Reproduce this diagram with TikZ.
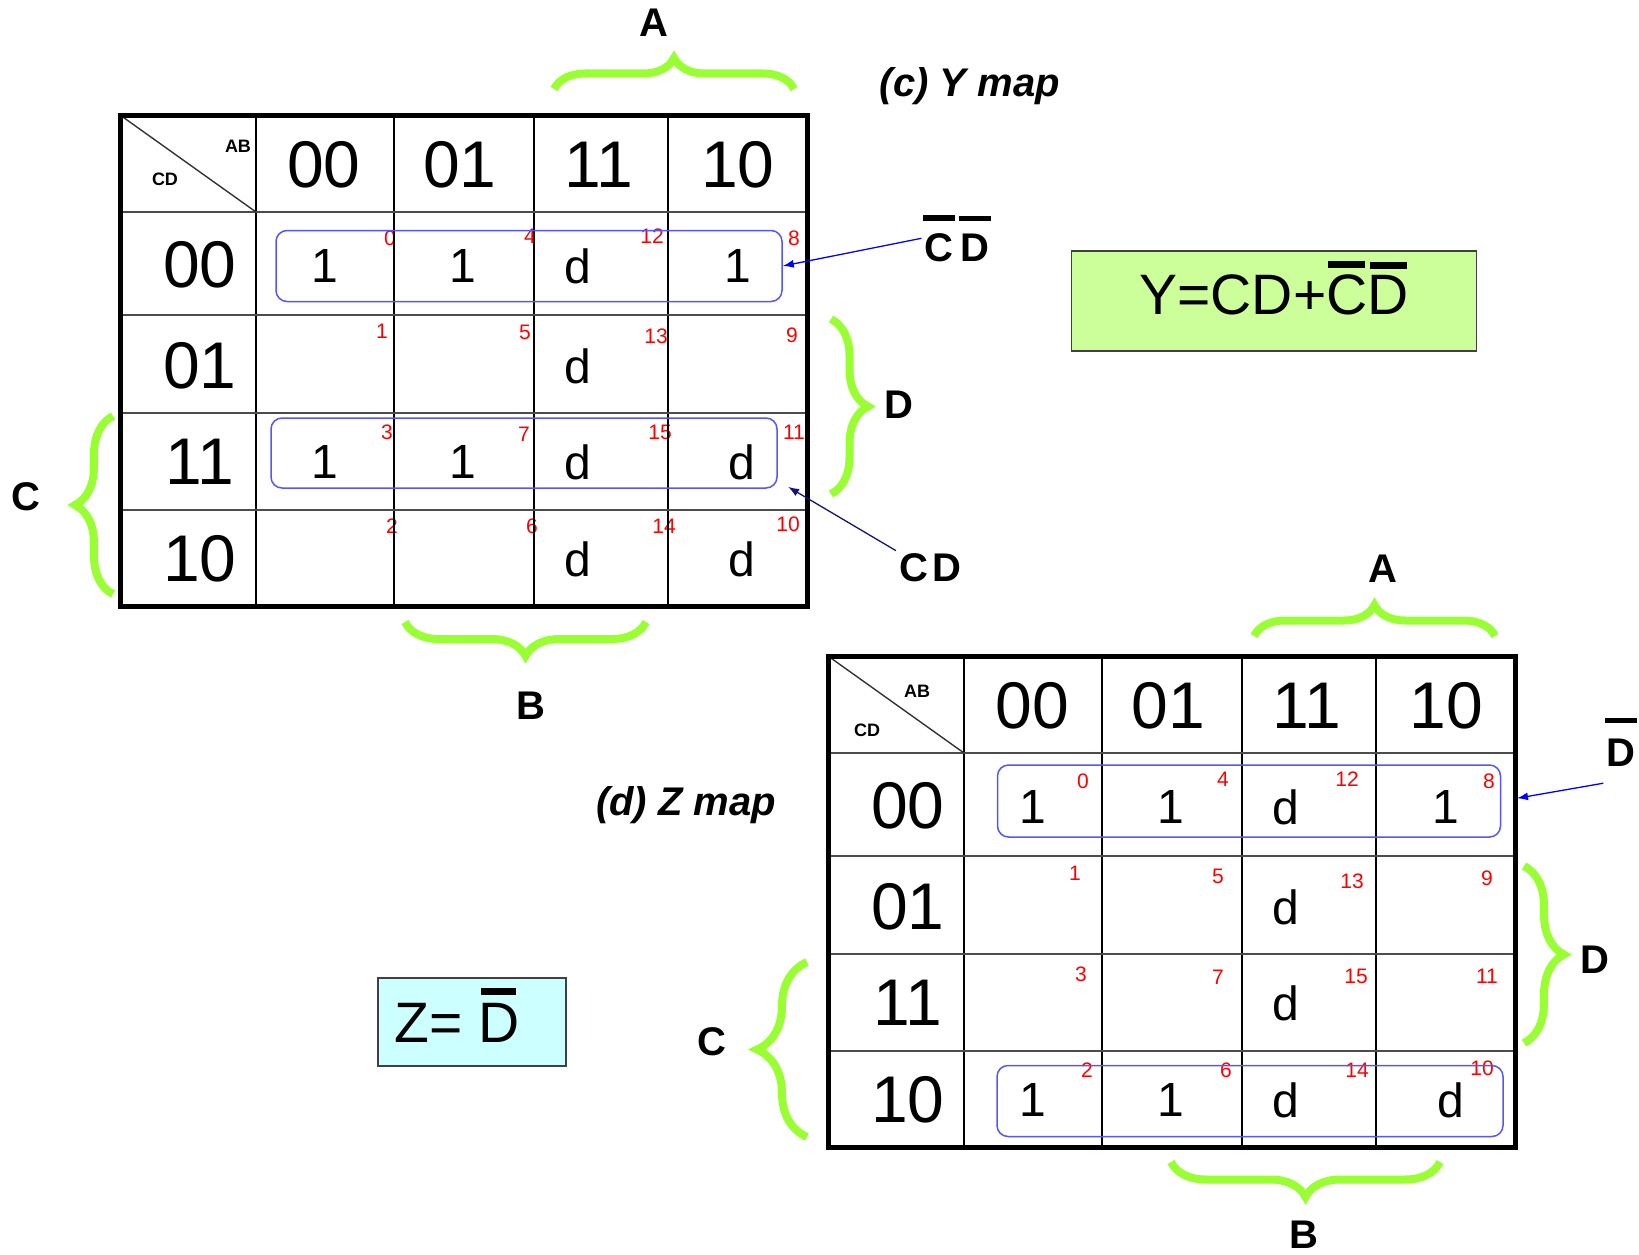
\documentclass[tikz,border=0pt]{standalone}
\usepackage{fontspec}
\setmainfont{Liberation Sans}
\usepackage{tikz}
\usetikzlibrary{decorations.pathreplacing,arrows.meta}

\definecolor{bracegreen}{RGB}{153,255,51}
\definecolor{loopblue}{RGB}{85,85,255}
\definecolor{ygreen}{RGB}{204,255,153}
\definecolor{zcyan}{RGB}{204,255,255}
\definecolor{navyarrow}{RGB}{20,20,120}

% overline of its own: [raise]{width factor}{letter}
\newcommand{\obar}[3][1.3]{\sbox0{#3}\rlap{\hbox to\wd0{\hss\rule[#1\ht0]{#2\wd0}{0.19\ht0}\hss}}\usebox0}

\tikzset{
	hdr/.style={font=\fontsize{66}{70}\selectfont},
	val/.style={font=\fontsize{48}{52}\selectfont},
	num/.style={text=red, font=\fontsize{21}{23}\selectfont, inner sep=0pt},
	corner/.style={font=\bfseries\fontsize{18}{20}\selectfont, inner sep=0pt},
	var/.style={font=\bfseries\fontsize{40}{44}\selectfont, inner sep=3pt},
	maptitle/.style={font=\bfseries\itshape\fontsize{40}{44}\selectfont},
	kloop/.style={draw=loopblue, line width=1.5pt, rounded corners=11pt, minimum width=506pt, minimum height=71pt, inner sep=0pt},
	kbrace/.style={decorate, decoration={brace, amplitude=#1}, draw=bracegreen, line width=8pt},
	arr/.style={-{Latex[length=11pt,width=8pt]}, line width=1.3pt, blue},
	eqbox/.style={draw=black!75, line width=1.2pt, font=\fontsize{57}{60}\selectfont}
}

\begin{document}
\begin{tikzpicture}[x=1pt,y=-1pt]
\useasboundingbox (0,0) rectangle (1639,1255);

% (c) Y map
\begin{scope}[shift={(120,115)}]
\foreach \n/\x/\y in {0/270/123,4/410/121,12/532/121,8/674/123,
                      1/262/216,5/405/217,13/536/221,9/672/220,
                      3/267/317,7/404/319,15/540/317,11/674/317,
                      2/272/411,6/412/411,14/544/411,10/668/409}
    \node (yn\n) at (\x,\y)[num]{\n};
\foreach \v/\x/\y [count=\i] in {1/205/151,1/343/151,d/458/151,1/618/151,
                      d/458/251,
                      1/205/347,1/343/347,d/458/347,d/622/347,
                      d/458/444,d/622/444}
    \node (yv\i) at (\x,\y)[val]{\v};
\foreach \t/\x in {00/204,01/340,11/479,10/618}
    \node (yh\t) at (\x,50)[hdr]{\t};
\foreach \t/\y in {00/150,01/251,11/347,10/444}
    \node (yr\t) at (80,\y)[hdr]{\t};
\node (yab) at (118,31)[corner]{AB};
\node (ycdc) at (45,64)[corner]{CD};

\foreach \x in {136,274,414,548}
    \draw [line width=1.4pt] (\x,0) -- (\x,491);
\foreach \y in {97,200,298,395}
    \draw [line width=2pt, black!70] (0,\y) -- (687,\y);
\draw [line width=1.4pt, black!80] (0,0) -- (136,97);
\draw [line width=5pt] (0,0) rectangle (687,491);

\node (yloopa) at (409,151)[kloop]{};
\node (yloopb) at (404,338)[kloop, minimum height=70pt]{};
\end{scope}

% (d) Z map
\begin{scope}[shift={(828,656)}]
\foreach \n/\x/\y in {0/255/125,4/395/123,12/519/123,8/661/125,
                      1/247/217,5/390/220,13/524/225,9/659/222,
                      3/253/318,7/390/321,15/528/320,11/659/320,
                      2/259/414,6/398/414,14/529/414,10/654/412}
    \node (zn\n) at (\x,\y)[num]{\n};
\foreach \v/\x/\y [count=\i] in {1/205/151,1/343/151,d/458/151,1/618/151,
                      d/458/251,
                      d/458/347,
                      1/205/444,1/343/444,d/458/444,d/623/444}
    \node (zv\i) at (\x,\y)[val]{\v};
\foreach \t/\x in {00/204,01/340,11/479,10/618}
    \node (zh\t) at (\x,50)[hdr]{\t};
\foreach \t/\y in {00/150,01/251,11/347,10/444}
    \node (zr\t) at (80,\y)[hdr]{\t};
\node (zab) at (89,35)[corner]{AB};
\node (zcdc) at (39,74)[corner]{CD};

\foreach \x in {136,274,414,548}
    \draw [line width=1.4pt] (\x,0) -- (\x,491);
\foreach \y in {97,200,298,395}
    \draw [line width=2pt, black!70] (0,\y) -- (687,\y);
\draw [line width=1.4pt, black!80] (0,0) -- (136,97);
\draw [line width=5pt] (0,0) rectangle (687,491);

\node (zloopa) at (421,145)[kloop, minimum width=503pt, minimum height=72pt]{};
\node (zloopb) at (422,445)[kloop]{};
\end{scope}

% braces and variable names
\draw [kbrace=31pt] (554,89) -- (794,89);
\draw [kbrace=37pt] (831,319) -- (831,494);
\draw [kbrace=38pt] (113,594) -- (113,416);
\draw [kbrace=34pt] (646,622) -- (405,622);
\node (ya) at (654,23)[var]{A};
\node (yd) at (899,405)[var]{D};
\node (yc) at (26,497)[var]{C};
\node (yb) at (531,706)[var]{B};

\draw [kbrace=31pt] (1254,636) -- (1495,636);
\draw [kbrace=40pt] (1524,866) -- (1524,1043);
\draw [kbrace=50pt] (807,1137) -- (807,962);
\draw [kbrace=35pt] (1440,1162) -- (1171,1162);
\node (za) at (1383,569)[var]{A};
\node (zd) at (1595,960)[var]{D};
\node (zc) at (712,1042)[var]{C};
\node (zb) at (1304,1235)[var]{B};

\node (ytitle) at (970,86)[maptitle]{(c) Y map};
\node (ztitle) at (686,805)[maptitle]{(d) Z map};

% loop names and arrows
\node (ycdbar) at (957,261)[var, anchor=base]{\obar[1.45]{1.1}{C}\hspace{7pt}\obar[1.45]{1.1}{D}};
\node (ycd) at (930,568)[var]{C\hspace{4pt}D};
\node (zdbar) at (1621,766)[var, anchor=base]{\obar[1.57]{1.1}{D}};
\draw [arr] (ycdbar.west) -- (yloopa.east);
\draw [arr, navyarrow, shorten >=12pt] (ycd.north west) -- ([yshift=8pt]yloopb.south east);
\draw [arr, shorten >=16pt] ([yshift=-14pt]zdbar.south west) -- (zloopa.east);

% results
\node (yeq) at (1274,301)[eqbox, fill=ygreen, minimum width=405pt, minimum height=100pt, text depth=27pt]{Y=CD+\obar[1.15]{0.9}{C}\obar[1.15]{0.9}{D}};
\node (zeq) at (472,1022)[eqbox, fill=zcyan, minimum width=188pt, minimum height=88pt, text depth=14pt]{Z= \obar[1.2]{0.85}{D}\kern30pt};

\end{tikzpicture}
\end{document}
